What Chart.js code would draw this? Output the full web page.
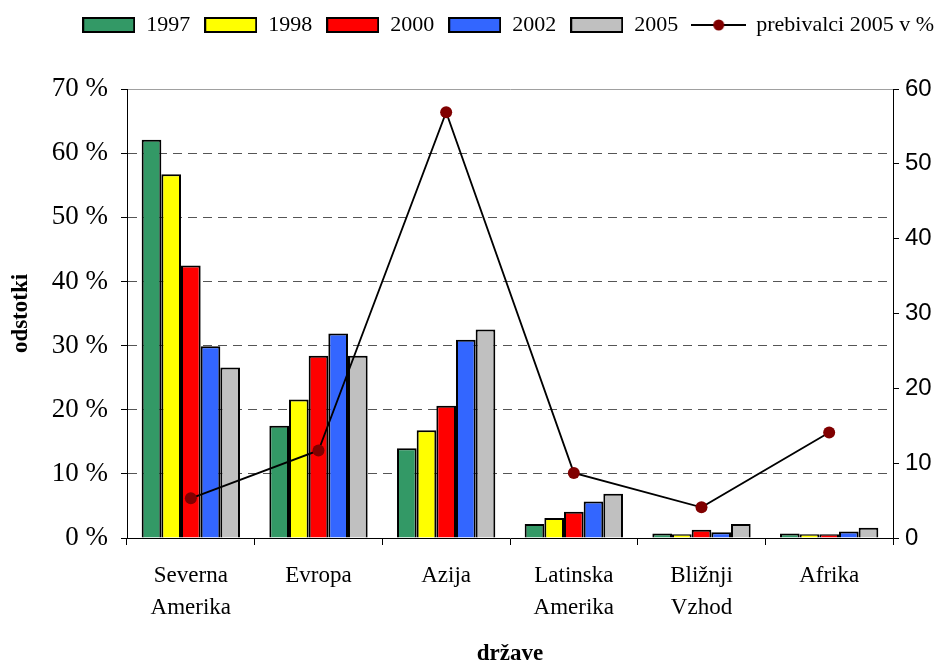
<!DOCTYPE html>
<html>
<head>
<meta charset="utf-8">
<script src="https://cdn.jsdelivr.net/npm/chart.js@4"></script>
<style>
  html, body { margin: 0; padding: 0; background: #fff; }
  #wrap { width: 948px; height: 660px; }
</style>
</head>
<body>
<div id="wrap"><canvas id="chart" width="948" height="660"></canvas></div>
<script>
const regions = [['Severna', 'Amerika'], ['Evropa'], ['Azija'], ['Latinska', 'Amerika'], ['Bližnji', 'Vzhod'], ['Afrika']];
const years = ['1997', '1998', '2000', '2002', '2005'];
const share1997 = [62.1, 17.5, 14.0, 2.2, 0.7, 0.7];
const share1998 = [56.7, 21.6, 16.8, 3.1, 0.6, 0.6];
const share2000 = [42.5, 28.4, 20.6, 4.1, 1.3, 0.6];
const share2002 = [29.9, 31.9, 30.9, 5.7, 0.9, 1.0];
const share2005 = [26.6, 28.4, 32.5, 6.9, 2.2, 1.6];
const population2005 = [5.3, 11.7, 56.9, 8.7, 4.1, 14.1];
const leftTicks = [0, 10, 20, 30, 40, 50, 60, 70];
const rightTicks = [0, 10, 20, 30, 40, 50, 60];
const lineLabel = 'prebivalci 2005 v %';

const barColors = ['#339966', '#FFFF00', '#FF0000', '#3366FF', '#C0C0C0'];
const serif = "'Liberation Serif', 'Times New Roman', serif";
const sans = "'Liberation Sans', Arial, sans-serif";

// legend swatches drawn on small canvases
function boxSwatch(color) {
  const c = document.createElement('canvas');
  c.width = 53; c.height = 16;
  const g = c.getContext('2d');
  g.fillStyle = color;
  g.fillRect(1, 1, 51, 14);
  g.strokeStyle = '#000';
  g.lineWidth = 2;
  g.strokeRect(1, 1, 51, 14);
  return c;
}
function lineSwatch() {
  const c = document.createElement('canvas');
  c.width = 55; c.height = 16;
  const g = c.getContext('2d');
  g.strokeStyle = '#000';
  g.lineWidth = 2;
  g.beginPath(); g.moveTo(0, 8); g.lineTo(55, 8); g.stroke();
  g.fillStyle = '#800000';
  g.beginPath(); g.arc(27.5, 8, 5.5, 0, Math.PI * 2); g.fill();
  return c;
}

const seriesData = [share1997, share1998, share2000, share2002, share2005];
const barSets = years.map((y, i) => ({
  type: 'bar',
  label: y,
  data: seriesData[i],
  backgroundColor: barColors[i],
  borderColor: '#000',
  borderWidth: 2,
  yAxisID: 'y',
  categoryPercentage: 0.77,
  barPercentage: 1.0,
  order: 1
}));

const legendSpace = {
  id: 'legendSpace',
  beforeInit(chart) {
    const fit = chart.legend.fit;
    chart.legend.fit = function() {
      fit.bind(chart.legend)();
      this.height = 89;
    };
  }
};

new Chart(document.getElementById('chart'), {
  type: 'bar',
  data: {
    labels: regions,
    datasets: [
      ...barSets,
      {
        type: 'line',
        label: lineLabel,
        data: population2005,
        borderColor: '#000',
        borderWidth: 1.8,
        pointBackgroundColor: '#800000',
        pointBorderColor: '#800000',
        pointRadius: 6,
        pointBorderWidth: 0,
        tension: 0,
        yAxisID: 'y1',
        order: 0
      }
    ]
  },
  plugins: [legendSpace],
  options: {
    responsive: false,
    animation: false,
    layout: { padding: 0 },
    plugins: {
      tooltip: { enabled: false },
      legend: {
        position: 'top',
        align: 'end',
        labels: {
          usePointStyle: true,
          pointStyleWidth: 53,
          boxHeight: 16,
          padding: 14,
          color: '#000',
          font: { family: serif, size: 22 },
          generateLabels(chart) {
            return chart.data.datasets.map((ds, i) => ({
              text: ds.label,
              datasetIndex: i,
              hidden: false,
              fillStyle: ds.type === 'line' ? '#800000' : ds.backgroundColor,
              strokeStyle: '#000',
              lineWidth: 1.5,
              pointStyle: ds.type === 'line' ? lineSwatch() : boxSwatch(ds.backgroundColor)
            }));
          }
        }
      }
    },
    scales: {
      x: {
        afterFit(scale) { scale.height = 122; },
        grid: {
          offset: true,
          drawOnChartArea: false,
          tickLength: 7,
          tickColor: '#000'
        },
        border: { color: '#000', width: 1 },
        ticks: {
          color: '#000',
          padding: 15,
          maxRotation: 0,
          font: { family: serif, size: 23, lineHeight: 1.38 }
        },
        title: {
          display: true,
          text: 'države',
          color: '#000',
          padding: { top: 0, bottom: -6 },
          font: { family: serif, size: 23, weight: 'bold', lineHeight: 1 }
        }
      },
      y: {
        position: 'left',
        min: 0,
        max: 70,
        afterFit(scale) { scale.width = 127; },
        afterBuildTicks(scale) { scale.ticks = leftTicks.map(v => ({ value: v })); },
        grid: {
          color: ctx => ctx.tick.value === 0 ? 'rgba(0,0,0,0)' : (ctx.tick.value === 70 ? '#a0a0a0' : '#555'),
          lineWidth: 1,
          tickLength: 6,
          tickColor: '#000',
          tickBorderDash: [],
          tickWidth: 1
        },
        border: {
          color: '#000',
          width: 1,
          dash: ctx => ctx.tick && ctx.tick.value === 70 ? [] : [9, 6]
        },
        ticks: {
          color: '#000',
          padding: 13,
          font: { family: serif, size: 27 },
          callback: v => v + ' %'
        },
        title: {
          display: true,
          text: 'odstotki',
          color: '#000',
          padding: { top: 10, bottom: 0 },
          font: { family: serif, size: 23, weight: 'bold', lineHeight: 1 }
        }
      },
      y1: {
        position: 'right',
        min: 0,
        max: 60,
        afterFit(scale) { scale.width = 55; },
        afterBuildTicks(scale) { scale.ticks = rightTicks.map(v => ({ value: v })); },
        grid: {
          drawOnChartArea: false,
          tickLength: 6,
          tickColor: '#000'
        },
        border: { color: '#000', width: 1 },
        ticks: {
          color: '#000',
          padding: 6,
          font: { family: sans, size: 24 }
        }
      }
    }
  }
});
</script>
</body>
</html>
